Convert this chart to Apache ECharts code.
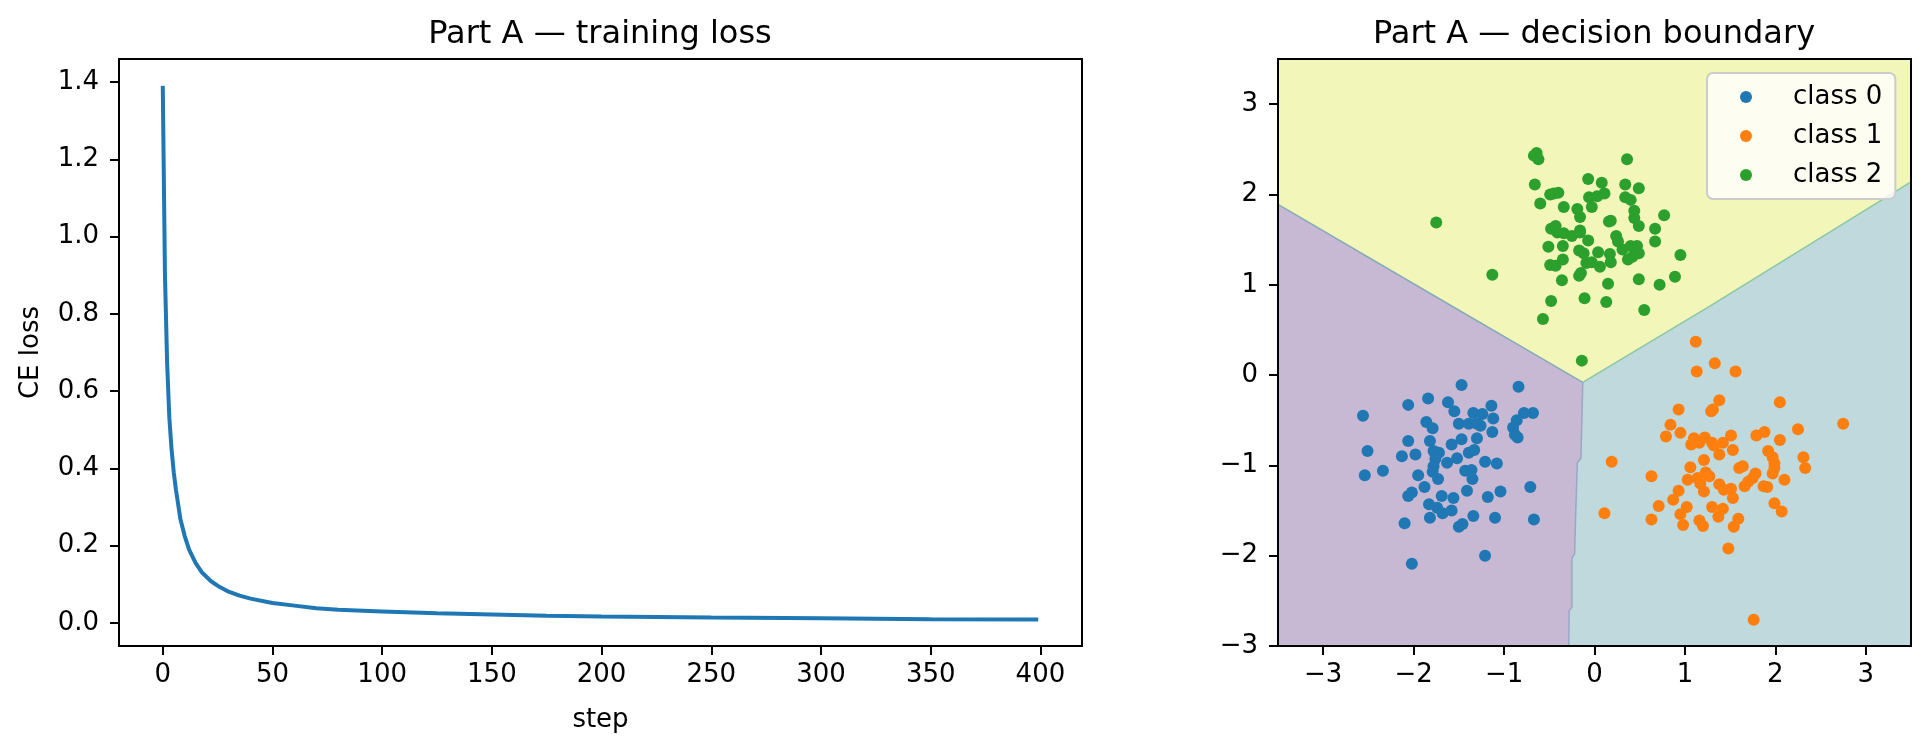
<!DOCTYPE html>
<html>
<head>
    <meta charset="utf-8">
    <title>Part A</title>
    <script src="https://cdn.jsdelivr.net/npm/echarts@6.0.0/dist/echarts.min.js"></script>
    <style>
        body { margin: 0; background: #fff; }
        #main { width: 1929px; height: 748px; }
    </style>
</head>
<body>
<div id="main"></div>
<script type="text/javascript">
    // training loss
    var lossSteps = [0, 1, 2, 3, 4, 5, 6, 8, 10, 12, 15, 18, 22, 26, 30, 35, 40, 50, 60, 70, 80, 100, 125, 150, 175, 200, 250, 300, 350, 399];
    var lossValues = [1.39, 0.90, 0.67, 0.53, 0.45, 0.39, 0.345, 0.27, 0.225, 0.19, 0.155, 0.13, 0.108, 0.093, 0.081, 0.071, 0.063, 0.052, 0.045, 0.038, 0.034, 0.030, 0.025, 0.022, 0.019, 0.017, 0.014, 0.012, 0.010, 0.009];
    var lossYTicks = [0, 0.2, 0.4, 0.6, 0.8, 1.0, 1.2, 1.4];
    var lossXTicks = [0, 50, 100, 150, 200, 250, 300, 350, 400];

    // points of the three classes
    var class0 = [[-1.47,-0.11],[-0.84,-0.13],[-2.06,-0.33],[-1.84,-0.26],[-1.62,-0.30],[-1.55,-0.40],[-2.56,-0.45],[-1.34,-0.42],[-1.24,-0.43],[-1.14,-0.34],[-1.12,-0.48],[-0.78,-0.42],[-0.68,-0.42],[-0.86,-0.50],[-0.90,-0.58],[-0.88,-0.66],[-0.85,-0.69],[-1.13,-0.63],[-1.86,-0.52],[-1.79,-0.59],[-1.50,-0.54],[-1.39,-0.54],[-1.30,-0.54],[-1.26,-0.56],[-1.30,-0.70],[-1.82,-0.73],[-2.06,-0.73],[-2.51,-0.84],[-2.13,-0.90],[-1.98,-0.88],[-1.58,-0.77],[-1.47,-0.71],[-1.78,-0.84],[-1.72,-0.86],[-1.76,-0.93],[-1.78,-1.01],[-1.79,-1.07],[-1.73,-1.15],[-1.63,-0.97],[-1.52,-0.92],[-1.39,-0.86],[-1.33,-0.83],[-1.21,-0.96],[-1.08,-0.98],[-1.43,-1.06],[-1.36,-1.05],[-1.35,-1.15],[-1.41,-1.28],[-1.95,-1.11],[-2.34,-1.06],[-2.54,-1.11],[-1.88,-1.24],[-2.06,-1.34],[-2.02,-1.30],[-1.69,-1.34],[-1.56,-1.36],[-1.18,-1.35],[-1.04,-1.29],[-0.71,-1.24],[-1.83,-1.43],[-1.74,-1.47],[-1.68,-1.53],[-1.58,-1.50],[-1.82,-1.58],[-1.34,-1.56],[-1.10,-1.58],[-0.67,-1.60],[-1.50,-1.68],[-1.46,-1.65],[-2.10,-1.64],[-1.21,-2.00],[-2.02,-2.09]];
    var class1 = [[1.12,0.37],[1.33,0.13],[1.13,0.04],[1.56,0.04],[1.38,-0.28],[1.29,-0.40],[1.31,-0.38],[0.93,-0.38],[2.05,-0.30],[2.75,-0.54],[2.25,-0.60],[0.84,-0.55],[0.79,-0.68],[0.95,-0.64],[1.10,-0.70],[1.07,-0.77],[1.16,-0.75],[1.22,-0.69],[1.30,-0.75],[1.32,-0.78],[1.42,-0.75],[1.51,-0.67],[1.38,-0.88],[1.53,-0.83],[1.21,-0.94],[1.06,-1.02],[1.79,-0.67],[1.88,-0.63],[2.05,-0.72],[1.92,-0.84],[1.97,-0.91],[1.99,-0.98],[1.99,-1.03],[1.97,-1.09],[2.31,-0.91],[2.33,-1.03],[2.10,-1.16],[1.60,-1.03],[1.64,-1.01],[1.78,-1.09],[1.75,-1.14],[1.70,-1.18],[1.66,-1.23],[1.87,-1.23],[1.91,-1.24],[1.23,-1.08],[1.27,-1.12],[1.14,-1.14],[1.03,-1.16],[1.17,-1.20],[1.21,-1.29],[1.38,-1.21],[1.43,-1.27],[1.51,-1.26],[1.53,-1.36],[0.93,-1.28],[0.87,-1.38],[0.71,-1.45],[1.02,-1.46],[0.95,-1.54],[1.30,-1.46],[1.42,-1.48],[1.37,-1.57],[1.99,-1.42],[2.07,-1.51],[0.63,-1.12],[0.19,-0.96],[0.11,-1.53],[0.63,-1.60],[0.98,-1.66],[1.16,-1.61],[1.20,-1.67],[1.59,-1.59],[1.54,-1.68],[1.48,-1.92],[1.76,-2.71]];
    var class2 = [[-0.67,2.43],[-0.64,2.46],[-0.62,2.39],[0.36,2.39],[-0.66,2.11],[-0.49,2.00],[-0.45,2.01],[-0.40,2.02],[-0.60,1.90],[-0.34,1.86],[-0.19,1.84],[-0.16,1.75],[-0.03,1.86],[-0.07,2.17],[0.08,2.13],[-0.06,1.97],[0.03,1.98],[0.11,2.01],[0.34,2.11],[0.49,2.07],[0.34,1.97],[0.40,1.94],[0.44,1.82],[0.44,1.74],[0.49,1.65],[0.77,1.77],[0.67,1.62],[0.67,1.48],[0.95,1.33],[0.89,1.09],[0.72,1.00],[0.49,1.06],[0.55,0.72],[0.15,1.01],[0.13,0.81],[-0.11,0.85],[-0.48,0.82],[-0.57,0.62],[-0.14,0.16],[-1.75,1.69],[-1.13,1.11],[-0.36,1.05],[-0.17,1.10],[-0.15,1.13],[-0.48,1.62],[-0.43,1.65],[-0.41,1.58],[-0.34,1.57],[-0.25,1.54],[-0.16,1.58],[-0.16,1.60],[-0.07,1.49],[-0.51,1.42],[-0.35,1.43],[-0.17,1.38],[-0.12,1.35],[0.04,1.36],[0.16,1.70],[0.18,1.71],[0.24,1.54],[0.26,1.48],[0.31,1.39],[0.40,1.43],[0.47,1.43],[0.49,1.35],[0.37,1.28],[0.42,1.31],[0.17,1.34],[0.18,1.25],[0.06,1.20],[-0.09,1.24],[-0.03,1.25],[-0.49,1.22],[-0.43,1.21],[-0.35,1.28]];
    var classNames = ['class 0', 'class 1', 'class 2'];
    var classColors = ['#1f77b4', '#ff7f0e', '#2ca02c'];

    // decision boundary lines (data coords)
    var boundaryLeft = [[-3.5, 1.89], [-1.93, 0.97], [-0.13, -0.08]];
    var boundaryRight = [[-0.13, -0.08], [1.285, 0.77], [3.5, 2.14]];
    var boundaryDown = [[-0.13, -0.08], [-0.15, -0.92], [-0.19, -0.97], [-0.21, -1.6], [-0.22, -1.98], [-0.25, -2.03], [-0.25, -2.57], [-0.28, -2.61], [-0.285, -3]];
    var planeTicks = [-3, -2, -1, 0, 1, 2, 3];
    var regionColors = ['#c7b9d3', '#bfd9dc', '#f2f6b9'];

    var regions = [
        [[-3.5, -3]].concat(boundaryLeft, boundaryDown.slice(1)),
        boundaryRight.concat([[3.5, -3]], boundaryDown.slice().reverse().slice(0, -1)),
        [[-3.5, 3.5], [3.5, 3.5]].concat(boundaryRight.slice().reverse(), boundaryLeft.slice().reverse().slice(1))
    ];

    var font = 'DejaVu Sans';
    function minus(v) { return String(v).replace('-', '\u2212'); }

    function axisCommon(extra) {
        var a = {
            type: 'value',
            splitLine: {show: false},
            axisLine: {show: false, onZero: false}
        };
        for (var k in extra) a[k] = extra[k];
        return a;
    }
    function ticks(values) {
        return {show: true, inside: false, length: 9, customValues: values, lineStyle: {color: '#000', width: 2}};
    }

    var chart = echarts.init(document.getElementById('main'));

    var option = {
        animation: false,
        backgroundColor: '#fff',
        title: [
            {text: 'Part A \u2014 training loss', left: 600, top: 19, textAlign: 'center', padding: 0,
                textStyle: {fontFamily: font, fontSize: 32, fontWeight: 'normal', color: '#000'}},
            {text: 'Part A \u2014 decision boundary', left: 1594, top: 19, textAlign: 'center', padding: 0,
                textStyle: {fontFamily: font, fontSize: 32, fontWeight: 'normal', color: '#000'}}
        ],
        grid: [
            {left: 119, top: 59, width: 963, height: 587, show: true, z: 10, borderColor: '#000', borderWidth: 2, backgroundColor: 'transparent'},
            {left: 1278, top: 59, width: 633, height: 587, show: true, z: 10, borderColor: '#000', borderWidth: 2, backgroundColor: 'transparent'}
        ],
        legend: {
            orient: 'vertical',
            left: 1707, top: 73,
            data: classNames,
            icon: 'circle',
            itemWidth: 12, itemHeight: 12, itemGap: 13,
            padding: [11, 13, 11, 33],
            backgroundColor: 'rgba(255,255,255,0.8)',
            borderColor: '#cccccc', borderWidth: 2, borderRadius: 6,
            z: 20,
            textStyle: {fontFamily: font, fontSize: 26, color: '#000', padding: [0, 0, 0, 36]}
        },
        xAxis: [
            axisCommon({
                gridIndex: 0, min: -19.95, max: 418.95,
                name: 'step', nameLocation: 'middle', nameGap: 61,
                nameTextStyle: {fontFamily: font, fontSize: 26, color: '#000'},
                axisTick: ticks(lossXTicks),
                axisLabel: {color: '#000', fontFamily: font, fontSize: 26, margin: 16, customValues: lossXTicks}
            }),
            axisCommon({
                gridIndex: 1, min: -3.5, max: 3.5,
                axisTick: ticks(planeTicks),
                axisLabel: {color: '#000', fontFamily: font, fontSize: 26, margin: 16, customValues: planeTicks, formatter: minus}
            })
        ],
        yAxis: [
            axisCommon({
                gridIndex: 0, min: -0.0595, max: 1.4595,
                name: 'CE loss', nameLocation: 'middle', nameGap: 75,
                nameTextStyle: {fontFamily: font, fontSize: 26, color: '#000'},
                axisTick: ticks(lossYTicks),
                axisLabel: {color: '#000', fontFamily: font, fontSize: 26, margin: 20, customValues: lossYTicks,
                    formatter: function (v) { return v.toFixed(1); }}
            }),
            axisCommon({
                gridIndex: 1, min: -3, max: 3.5,
                axisTick: ticks(planeTicks),
                axisLabel: {color: '#000', fontFamily: font, fontSize: 26, margin: 20, customValues: planeTicks, formatter: minus}
            })
        ],
        series: [
            {
                type: 'line',
                xAxisIndex: 0, yAxisIndex: 0,
                data: lossSteps.map(function (s, i) { return [s, lossValues[i]]; }),
                showSymbol: false, symbol: 'none',
                lineStyle: {color: '#1f77b4', width: 4},
                silent: true
            },
            {
                type: 'custom',
                xAxisIndex: 1, yAxisIndex: 1,
                data: [[0, 0], [0, 0], [0, 0]],
                z: 1,
                silent: true,
                renderItem: function (params, api) {
                    var pts = regions[params.dataIndex].map(function (p) { return api.coord(p); });
                    return {type: 'polygon', shape: {points: pts}, style: {fill: regionColors[params.dataIndex]}};
                }
            },
            {type: 'line', xAxisIndex: 1, yAxisIndex: 1, data: boundaryLeft, symbol: 'none', silent: true,
                lineStyle: {color: '#86aab8', width: 1.5}, z: 1.5},
            {type: 'line', xAxisIndex: 1, yAxisIndex: 1, data: boundaryRight, symbol: 'none', silent: true,
                lineStyle: {color: '#8cc7a4', width: 1.5}, z: 1.5},
            {type: 'line', xAxisIndex: 1, yAxisIndex: 1, data: boundaryDown, symbol: 'none', silent: true,
                lineStyle: {color: '#9aa6c8', width: 1.5}, z: 1.5},
            {name: classNames[0], type: 'scatter', xAxisIndex: 1, yAxisIndex: 1, data: class0, symbolSize: 12,
                itemStyle: {color: classColors[0], opacity: 1}, z: 3},
            {name: classNames[1], type: 'scatter', xAxisIndex: 1, yAxisIndex: 1, data: class1, symbolSize: 12,
                itemStyle: {color: classColors[1], opacity: 1}, z: 3},
            {name: classNames[2], type: 'scatter', xAxisIndex: 1, yAxisIndex: 1, data: class2, symbolSize: 12,
                itemStyle: {color: classColors[2], opacity: 1}, z: 3}
        ]
    };

    chart.setOption(option);
</script>
</body>
</html>
